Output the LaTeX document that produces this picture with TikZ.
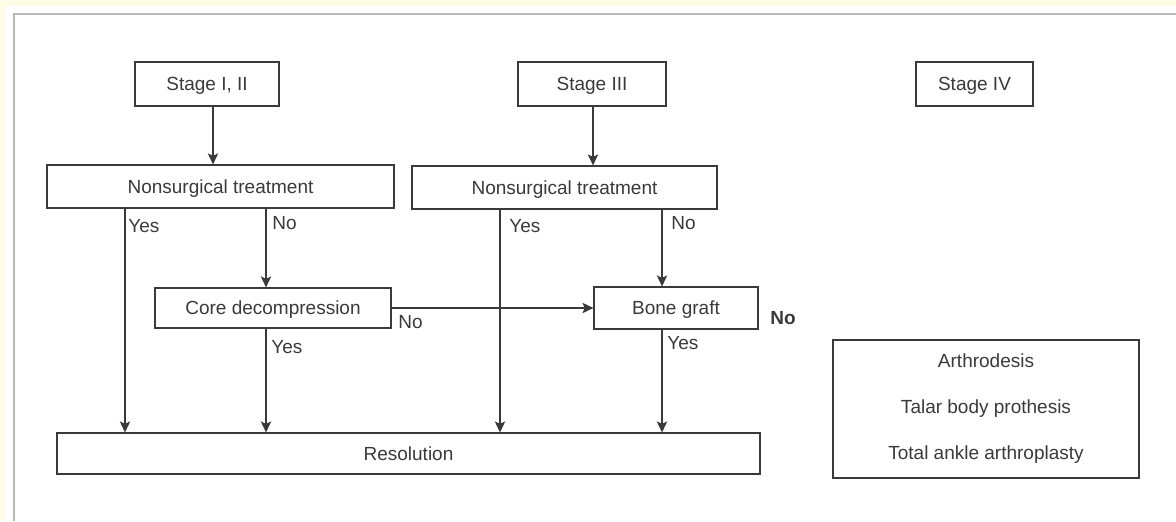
\documentclass[tikz,border=0pt]{standalone}
\usepackage{fontspec}
\setmainfont{Liberation Sans}
\usetikzlibrary{arrows.meta}

\definecolor{paper}{HTML}{FFFCE6}
\definecolor{ink}{HTML}{3A3A3A}

\tikzset{
  box/.style={draw=ink, line width=0.6pt, inner sep=0pt, font=\fontsize{9.5}{11.4}\selectfont, text=ink},
  onebox/.style={box, text height=6.9pt, text depth=0pt},
  lbl/.style={inner sep=0pt, anchor=west, font=\fontsize{9.5}{11.4}\selectfont, text=ink},
  arr/.style={draw=ink, line width=0.55pt, -{Stealth[length=5.5pt,width=5.2pt,inset=1.2pt]}}
}

\begin{document}
\begin{tikzpicture}[x=0.5pt,y=-0.5pt]
\useasboundingbox (0,0) rectangle (1176,521);
\fill[paper] (0,0) rectangle (1176,521);
\fill[white] (5,6) rectangle (1176,521);
\draw[gray!55, line width=0.9pt] (14,521)--(14,14)--(1176,14);

% stages
\node[onebox, minimum width=72pt, minimum height=22pt] (st12) at (207,84) {Stage I, II};
\node[onebox, minimum width=74pt, minimum height=22pt] (st3) at (592,84) {Stage III};
\node[onebox, minimum width=58.5pt, minimum height=22pt] (st4) at (974.5,84) {Stage IV};

% treatment boxes
\node[onebox, minimum width=173.5pt, minimum height=21.5pt] (ns1) at (220.5,186.5) {Nonsurgical treatment};
\node[onebox, minimum width=152.5pt, minimum height=21.5pt] (ns2) at (564.5,187.5) {Nonsurgical treatment};
\node[onebox, minimum width=118pt, minimum height=20pt] (core) at (273,308) {Core decompression};
\node[onebox, minimum width=82pt, minimum height=21pt] (bone) at (676,308) {Bone graft};
\node[onebox, minimum width=351.5pt, minimum height=20.5pt] (res) at (408.5,453.5) {Resolution};
\node[box, minimum width=153pt, minimum height=69pt, align=center] (surg) at (986,409)
  {Arthrodesis\\[11.6pt]Talar body prothesis\\[11.6pt]Total ankle arthroplasty};

% x positions of the arrows
\coordinate (a1) at (213,0);
\coordinate (a2) at (593,0);
\coordinate (y1) at (125,0);
\coordinate (n1) at (266,0);
\coordinate (y2) at (500,0);
\coordinate (n2) at (662,0);

\draw[arr] (st12.south -| a1) -- (ns1.north -| a1);
\draw[arr] (st3.south -| a2) -- (ns2.north -| a2);
\draw[arr] (ns1.south -| y1) -- (res.north -| y1);
\draw[arr] (ns1.south -| n1) -- (core.north -| n1);
\draw[arr] (core.south -| n1) -- (res.north -| n1);
\draw[arr] (ns2.south -| y2) -- (res.north -| y2);
\draw[arr] (ns2.south -| n2) -- (bone.north -| n2);
\draw[arr] (bone.south -| n2) -- (res.north -| n2);
\draw[arr] (core.east) -- (bone.west);

% labels
\node[lbl] (yes1) at (128,226) {Yes};
\node[lbl] (no1) at (272,223) {No};
\node[lbl] (yes2) at (509,226) {Yes};
\node[lbl] (no2) at (671,223) {No};
\node[lbl] (no3) at (398,322) {No};
\node[lbl] (yes3) at (271,347) {Yes};
\node[lbl] (yes4) at (667,343) {Yes};
\node[lbl, font=\fontsize{9.5}{11.4}\selectfont\bfseries] (no4) at (770,318) {No};
\end{tikzpicture}
\end{document}
